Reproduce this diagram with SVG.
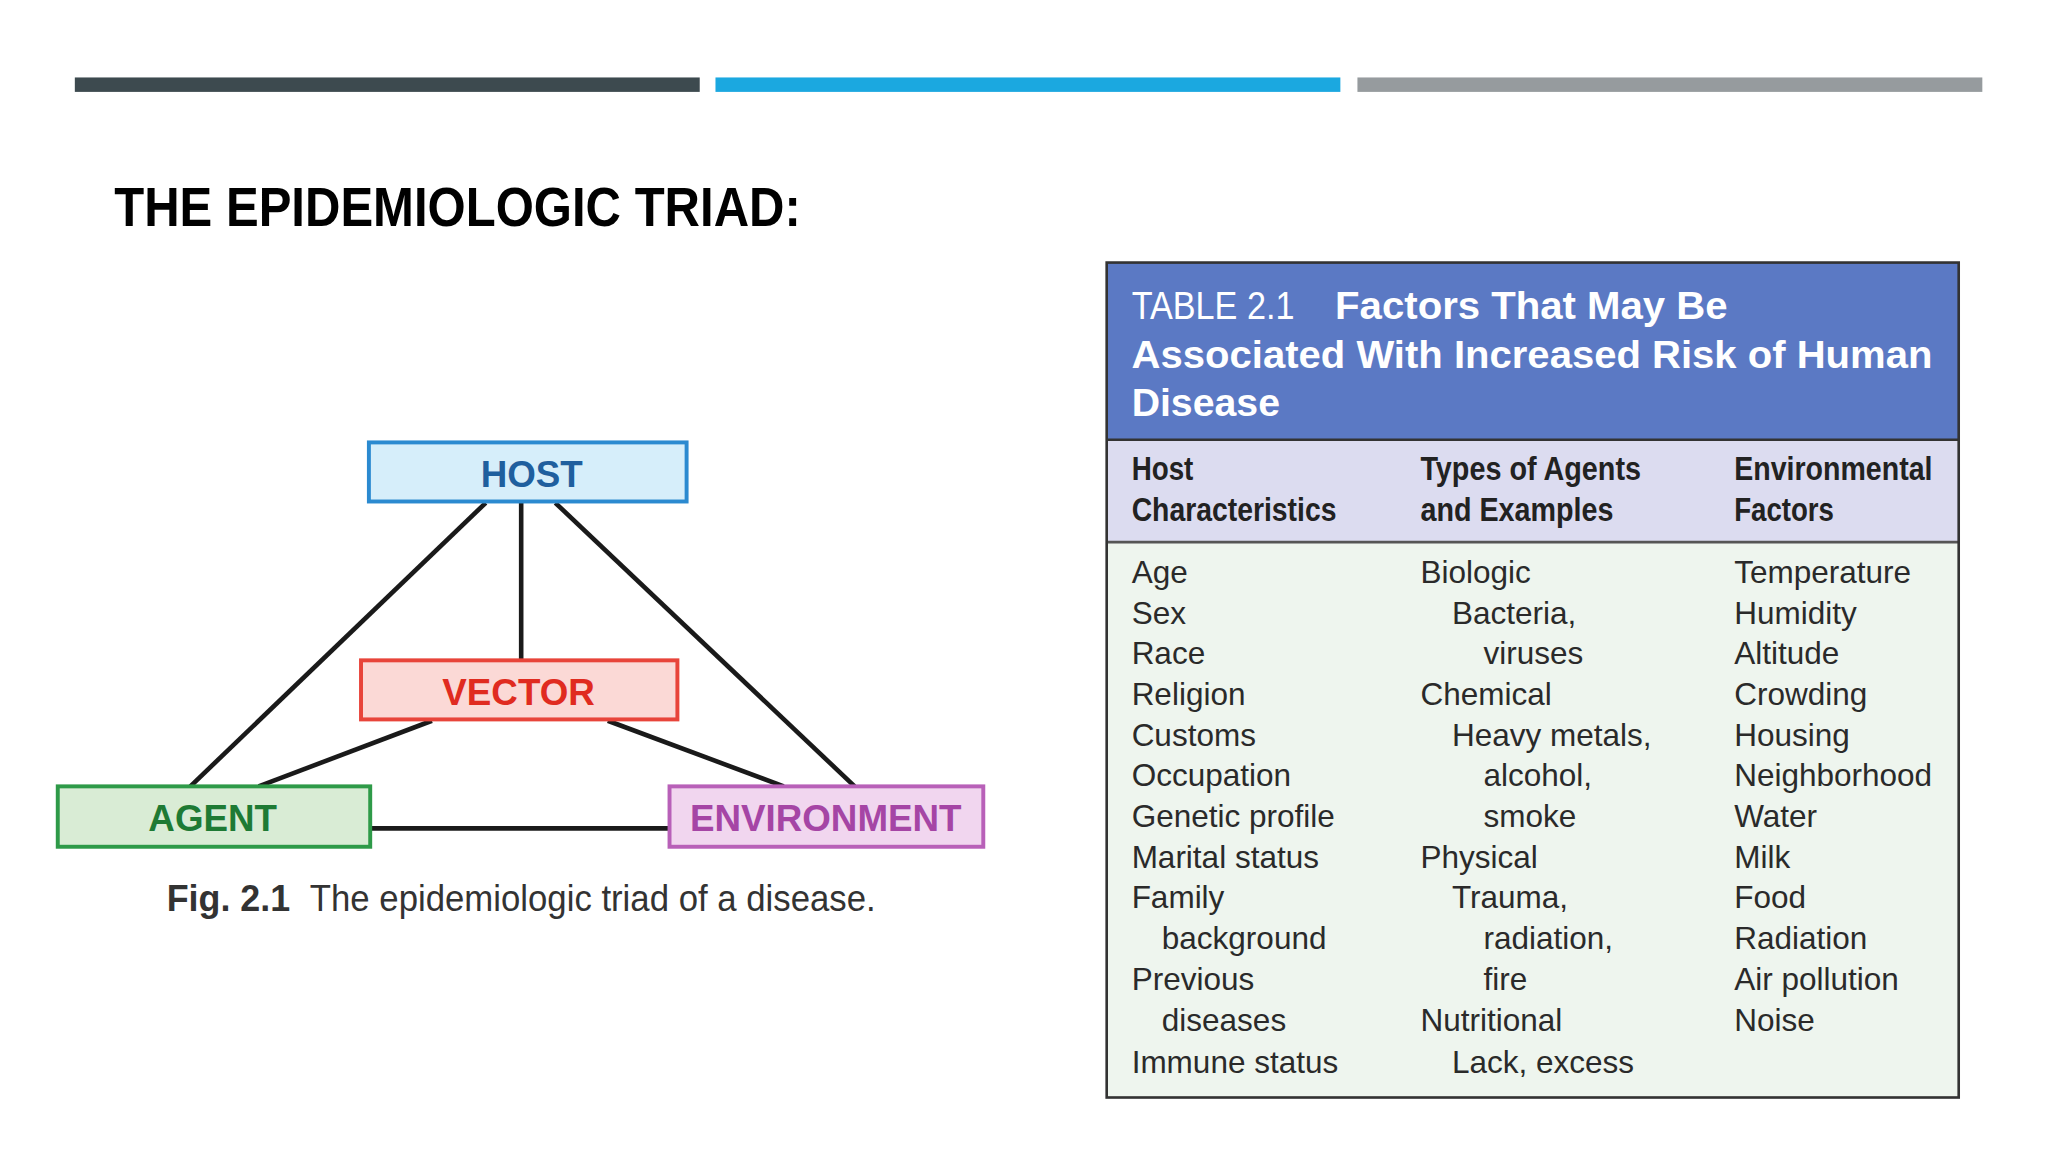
<svg xmlns="http://www.w3.org/2000/svg" width="2048" height="1152" viewBox="0 0 2048 1152">
<style>
.t{font-family:"Liberation Sans",Arial,sans-serif}
.lbl{font-family:"Liberation Sans",Arial,sans-serif;font-weight:bold;font-size:28px;text-anchor:middle}
.ln{stroke:#1a1a1a;stroke-width:3.5;fill:none}
.b{font-family:"Liberation Sans",Arial,sans-serif;font-size:24px;fill:#2a2a2a}
.h{font-family:"Liberation Sans",Arial,sans-serif;font-size:26px;font-weight:bold;fill:#222}
.w{font-family:"Liberation Sans",Arial,sans-serif;font-size:30px;fill:#fff}
</style>
<rect width="2048" height="1152" fill="#fff"/>
<g transform="scale(1.3128)">
<rect x="57" y="59" width="476" height="11" fill="#3d4a4f"/>
<rect x="545" y="59" width="476" height="11" fill="#1ba8e0"/>
<rect x="1034" y="59" width="476" height="11" fill="#969b9e"/>
<text class="t" x="87" y="172" font-size="42" font-weight="bold" fill="#000" textLength="523" lengthAdjust="spacingAndGlyphs">THE EPIDEMIOLOGIC TRIAD:</text>
<g id="connectors">
<line class="ln" x1="370" y1="383" x2="145" y2="599"/>
<line class="ln" x1="397" y1="383" x2="397" y2="503"/>
<line class="ln" x1="423" y1="383" x2="651" y2="599"/>
<line class="ln" x1="329" y1="549" x2="197" y2="599"/>
<line class="ln" x1="463" y1="549" x2="597" y2="599"/>
<line class="ln" x1="283" y1="631" x2="510" y2="631"/>
</g>
<g id="host"><rect x="281" y="337" width="242" height="45" fill="#d6eefa" stroke="#2b8ad0" stroke-width="3"/><text class="lbl" x="405" y="371" fill="#1f5f9e">HOST</text></g>
<g id="vector"><rect x="275" y="503" width="241" height="45" fill="#fbd9d6" stroke="#e8443a" stroke-width="3"/><text class="lbl" x="395" y="537" fill="#e02b20">VECTOR</text></g>
<g id="agent"><rect x="44" y="599" width="238" height="46" fill="#d9ecd5" stroke="#2e9a48" stroke-width="3"/><text class="lbl" x="162" y="633" fill="#1e7a34">AGENT</text></g>
<g id="environment"><rect x="510" y="599" width="239" height="46" fill="#f1d6ef" stroke="#b860b8" stroke-width="3"/><text class="lbl" x="629" y="633" fill="#a545a5">ENVIRONMENT</text></g>
<text class="t" x="127" y="694" font-size="28" font-weight="bold" fill="#333" textLength="94" lengthAdjust="spacingAndGlyphs">Fig. 2.1</text>
<text class="t" x="236" y="694" font-size="28" fill="#333" textLength="431" lengthAdjust="spacingAndGlyphs">The epidemiologic triad of a disease.</text>
<g id="table">
<rect x="843" y="200" width="649" height="636" fill="#eef5ee"/>
<rect x="843" y="200" width="649" height="135" fill="#5b79c4"/>
<rect x="843" y="335" width="649" height="78" fill="#dcdcf0"/>
<line x1="843" y1="335" x2="1492" y2="335" stroke="#333" stroke-width="2"/>
<line x1="843" y1="413" x2="1492" y2="413" stroke="#555" stroke-width="2"/>
<rect x="843" y="200" width="649" height="636" fill="none" stroke="#333" stroke-width="2"/>
<text class="w" x="862" y="243" textLength="124" lengthAdjust="spacingAndGlyphs">TABLE 2.1</text>
<text class="w" x="1017" y="243" font-weight="bold" textLength="299" lengthAdjust="spacingAndGlyphs">Factors That May Be</text>
<text class="w" x="862" y="280" font-weight="bold" textLength="610" lengthAdjust="spacingAndGlyphs">Associated With Increased Risk of Human</text>
<text class="w" x="862" y="317" font-weight="bold" textLength="113" lengthAdjust="spacingAndGlyphs">Disease</text>
<text class="h" x="862" y="366" textLength="47" lengthAdjust="spacingAndGlyphs">Host</text>
<text class="h" x="862" y="397" textLength="156" lengthAdjust="spacingAndGlyphs">Characteristics</text>
<text class="h" x="1082" y="366" textLength="168" lengthAdjust="spacingAndGlyphs">Types of Agents</text>
<text class="h" x="1082" y="397" textLength="147" lengthAdjust="spacingAndGlyphs">and Examples</text>
<text class="h" x="1321" y="366" textLength="151" lengthAdjust="spacingAndGlyphs">Environmental</text>
<text class="h" x="1321" y="397" textLength="76" lengthAdjust="spacingAndGlyphs">Factors</text>
<g class="b">
<text x="862" y="444">Age</text><text x="862" y="475">Sex</text><text x="862" y="506">Race</text><text x="862" y="537">Religion</text><text x="862" y="568">Customs</text><text x="862" y="599">Occupation</text><text x="862" y="630">Genetic profile</text><text x="862" y="661">Marital status</text><text x="862" y="692">Family</text><text x="885" y="723">background</text><text x="862" y="754">Previous</text><text x="885" y="785">diseases</text><text x="862" y="817">Immune status</text>
<text x="1082" y="444">Biologic</text><text x="1106" y="475">Bacteria,</text><text x="1130" y="506">viruses</text><text x="1082" y="537">Chemical</text><text x="1106" y="568">Heavy metals,</text><text x="1130" y="599">alcohol,</text><text x="1130" y="630">smoke</text><text x="1082" y="661">Physical</text><text x="1106" y="692">Trauma,</text><text x="1130" y="723">radiation,</text><text x="1130" y="754">fire</text><text x="1082" y="785">Nutritional</text><text x="1106" y="817">Lack, excess</text>
<text x="1321" y="444">Temperature</text><text x="1321" y="475">Humidity</text><text x="1321" y="506">Altitude</text><text x="1321" y="537">Crowding</text><text x="1321" y="568">Housing</text><text x="1321" y="599">Neighborhood</text><text x="1321" y="630">Water</text><text x="1321" y="661">Milk</text><text x="1321" y="692">Food</text><text x="1321" y="723">Radiation</text><text x="1321" y="754">Air pollution</text><text x="1321" y="785">Noise</text>
</g>
</g>
</g>
</svg>
